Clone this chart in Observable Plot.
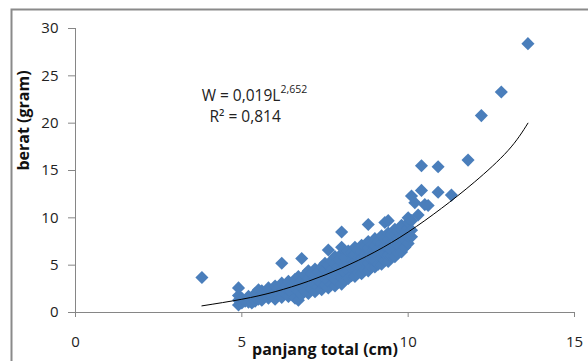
<!DOCTYPE html>
<html><head><meta charset="utf-8">
<script src="https://cdn.jsdelivr.net/npm/d3@7"></script>
<script src="https://cdn.jsdelivr.net/npm/@observablehq/plot@0.6"></script>
<style>
html,body{margin:0;padding:0;background:#fff;overflow:hidden;width:588px;height:361px}
#chart{width:588px;height:361px;overflow:hidden}
</style></head><body><div id="chart"></div>
<script>
// observed points: [panjang total (cm), berat (gram)]
const titik = [
[3.8,3.7],
[4.9,0.8],[4.9,1.3],[4.9,1.8],[4.9,2.6],
[5.0,1.0],[5.0,1.5],[5.1,1.2],[5.2,1.1],[5.2,1.7],[5.3,1.0],
[5.4,1.2],[5.4,1.6],[5.4,2.0],[5.5,1.4],[5.5,2.4],
[5.6,1.3],[5.6,1.9],[5.6,2.3],[5.8,1.5],[5.8,2.0],[5.8,2.6],[5.9,1.8],
[6.0,1.4],[6.0,2.1],[6.0,2.8],[6.1,1.9],[6.1,2.5],
[6.2,1.6],[6.2,2.3],[6.2,3.1],[6.2,5.2],[6.3,2.0],[6.3,2.7],
[6.4,1.7],[6.4,2.4],[6.4,3.3],[6.5,2.1],[6.5,2.9],
[6.6,1.5],[6.6,2.6],[6.6,3.5],[6.7,1.3],[6.7,2.2],[6.7,3.0],[6.7,3.8],
[6.8,1.9],[6.8,2.7],[6.8,3.4],[6.8,5.7],[6.9,2.3],[6.9,3.1],[6.9,4.0],
[7.0,2.0],[7.0,2.8],[7.0,3.6],[7.0,4.4],[7.1,2.5],[7.1,3.2],[7.1,4.1],
[7.2,2.2],[7.2,3.0],[7.2,3.8],[7.2,4.6],[7.3,2.7],[7.3,3.4],[7.3,4.3],
[7.4,2.4],[7.4,3.1],[7.4,3.9],[7.4,4.8],[7.5,2.9],[7.5,3.6],[7.5,4.5],[7.5,5.2],
[7.6,2.6],[7.6,3.3],[7.6,4.1],[7.6,5.0],[7.6,6.6],[7.7,3.0],[7.7,3.8],[7.7,4.6],[7.7,5.5],
[7.8,2.8],[7.8,3.5],[7.8,4.3],[7.8,5.1],[7.8,5.9],[7.9,3.2],[7.9,4.0],[7.9,4.8],[7.9,5.6],
[8.0,3.0],[8.0,3.7],[8.0,4.5],[8.0,5.3],[8.0,6.2],[8.0,6.9],[8.0,8.5],
[8.1,3.4],[8.1,4.2],[8.1,5.0],[8.1,5.8],[8.2,3.6],[8.2,4.4],[8.2,5.2],[8.2,6.0],[8.2,6.5],
[8.3,3.9],[8.3,4.7],[8.3,5.5],[8.3,6.3],[8.4,3.8],[8.4,4.6],[8.4,5.4],[8.4,6.2],[8.4,6.9],
[8.5,4.2],[8.5,5.0],[8.5,5.8],[8.5,6.6],[8.6,4.1],[8.6,4.9],[8.6,5.7],[8.6,6.4],[8.6,7.1],
[8.7,4.5],[8.7,5.3],[8.7,6.1],[8.7,6.9],[8.8,4.4],[8.8,5.2],[8.8,6.0],[8.8,6.8],[8.8,7.5],[8.8,9.3],
[8.9,4.8],[8.9,5.6],[8.9,6.4],[8.9,7.2],[9.0,4.8],[9.0,5.5],[9.0,6.3],[9.0,7.0],[9.0,7.8],
[9.1,5.1],[9.1,5.9],[9.1,6.7],[9.1,7.5],[9.2,5.1],[9.2,5.8],[9.2,6.6],[9.2,7.3],[9.2,8.1],
[9.3,5.5],[9.3,6.2],[9.3,7.0],[9.3,7.8],[9.3,9.5],[9.4,5.4],[9.4,6.1],[9.4,6.9],[9.4,7.7],[9.4,8.4],[9.4,9.7],
[9.5,5.9],[9.5,6.6],[9.5,7.4],[9.5,8.2],[9.6,5.9],[9.6,6.7],[9.6,7.5],[9.6,8.3],[9.6,8.8],
[9.7,6.3],[9.7,7.1],[9.7,7.9],[9.7,8.6],[9.8,6.4],[9.8,7.2],[9.8,8.0],[9.8,8.8],[9.8,9.2],
[9.9,6.9],[9.9,7.7],[9.9,8.5],[10.0,7.3],[10.0,8.1],[10.0,8.9],[10.0,9.5],[10.0,10.0],
[10.1,8.0],[10.1,8.7],[10.1,9.7],
[10.2,11.6],[10.1,12.3],[10.4,12.9],[10.3,10.3],[10.5,11.4],[10.6,11.3],[10.9,12.7],[11.3,12.4],
[10.4,15.5],[10.9,15.4],[11.8,16.1],[12.2,20.8],[12.8,23.3],[13.6,28.4]
];
// trend line
const trendL = [3.8, 5, 6, 7, 8, 9, 10, 11, 12, 13, 13.6];
const trendW = [0.7, 1.4, 2.2, 3.3, 4.7, 6.4, 8.5, 11.0, 13.8, 17.1, 20.0];
const xTicks = [0, 5, 10, 15];
const yTicks = [0, 5, 10, 15, 20, 25, 30];
const judulX = "panjang total (cm)";
const judulY = "berat (gram)";
const persamaan = [{teks: "W = 0,019L", L: 6.16, W: 22.9}];
const pangkat = [{teks: "2,652", L: 6.16, W: 22.9}];
const rKuadrat = [{teks: "R² = 0,814", L: 5.1, W: 20.6}];

const tren = trendL.map((l, i) => ({L: l, W: trendW[i]}));
const biru = "#4a7ebb";
const abu = "#868686";

const plot = Plot.plot({
  width: 588, height: 361,
  marginLeft: 75, marginRight: 14, marginTop: 28, marginBottom: 49,
  style: {fontFamily: "'Open Sans', sans-serif", fontSize: "15px", color: "#222", background: "#fff"},
  x: {domain: [0, 15]},
  y: {domain: [0, 30]},
  marks: [
    // chart-area border: only its top and left edges fall inside the picture
    Plot.frame({insetLeft: -64, insetTop: -19, insetRight: -300, insetBottom: -300, stroke: "#8a8a8a", strokeWidth: 2}),
    Plot.axisY({ticks: yTicks, tickSize: 7, tickPadding: 10, label: null, stroke: abu, fill: "#222", fontSize: 15}),
    Plot.axisX({ticks: xTicks, tickSize: 5, tickPadding: 19, label: null, stroke: abu, fill: "#222", fontSize: 15}),
    Plot.ruleY([0], {stroke: abu}),
    Plot.ruleX([0], {stroke: abu}),
    Plot.dot(titik, {x: d => d[0], y: d => d[1], symbol: "diamond2", r: 5.9, fill: biru, stroke: "none"}),
    Plot.line(tren, {x: "L", y: "W", curve: "natural", stroke: "#000", strokeWidth: 1}),
    Plot.text(persamaan, {x: "L", y: "W", text: "teks", textAnchor: "end", fontSize: 15.5, fill: "#222"}),
    Plot.text(pangkat, {x: "L", y: "W", text: "teks", textAnchor: "start", fontSize: 10.5, dy: -6, fill: "#222"}),
    Plot.text(rKuadrat, {x: "L", y: "W", text: "teks", textAnchor: "middle", fontSize: 15.5, fill: "#222"}),
    Plot.text([judulX], {text: d => d, frameAnchor: "bottom", dy: 42, fontWeight: "bold", fontSize: 16, fill: "#111"}),
    Plot.text([judulY], {text: d => d, frameAnchor: "left", dx: -52, rotate: -90, fontWeight: "bold", fontSize: 16, fill: "#111"})
  ]
});
document.getElementById("chart").appendChild(plot);
</script></body></html>
